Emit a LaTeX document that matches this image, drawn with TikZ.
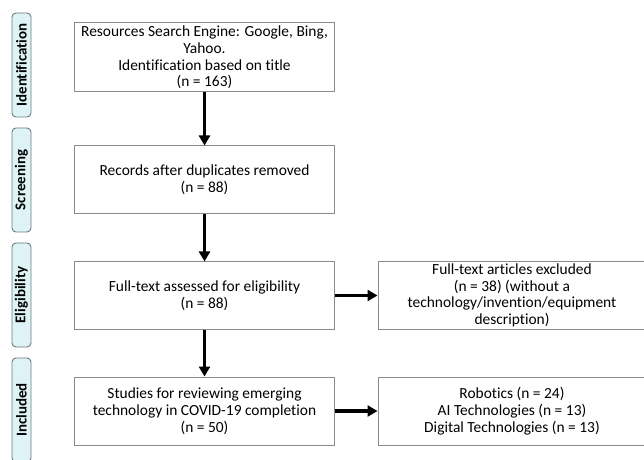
\documentclass[tikz,border=0pt]{standalone}
\usepackage{fontspec}
\setmainfont{Carlito}[Ligatures={NoCommon,NoRequired,NoContextual}]
\usetikzlibrary{arrows.meta}
\definecolor{stagefill}{HTML}{DDF3F6}
\definecolor{stageline}{HTML}{6E7B7D}
\definecolor{boxline}{HTML}{8A8A8A}
\tikzset{
  box/.style={draw=boxline, line width=1bp, align=center, inner sep=1bp,
    font=\fontsize{15.5}{16.8}\selectfont},
  stage/.style={draw=stageline, fill=stagefill, line width=0.9bp, rounded corners=4bp,
    rotate=90, minimum width=104bp, minimum height=19bp, inner sep=0pt,
    font=\bfseries\fontsize{15}{17}\selectfont},
  flow/.style={-{Triangle[length=10bp,width=11bp]}, line width=3.2bp}
}
\begin{document}
\begin{tikzpicture}[x=1bp,y=-1bp]
    \useasboundingbox (0,0) rectangle (644,460);
    % stages
    \node[stage] (ident)  at (21.5,65)  {Identification};
    \node[stage] (screen) at (21.5,180) {Screening};
    \node[stage] (elig)   at (21.5,295) {Eligibility};
    \node[stage] (incl)   at (21.5,410) {Included};
    % main column
    \node[box, minimum width=259bp, minimum height=69bp] (search) at (204.5,57.5)
        {Resources Search Engine: Google, Bing,\\ Yahoo.\\ Identification based on title\\ (n = 163)};
    \node[box, minimum width=259bp, minimum height=68bp] (dupl) at (204.5,180)
        {Records after duplicates removed\\ (n = 88)};
    \node[box, minimum width=259bp, minimum height=67bp] (fulltext) at (204.5,295.5)
        {Full-text assessed for eligibility\\ (n = 88)};
    \node[box, minimum width=259bp, minimum height=68bp] (studies) at (204.5,411)
        {Studies for reviewing emerging\\ technology in COVID-19 completion\\ (n = 50)};
    % right column
    \node[box, minimum width=268bp, minimum height=67bp] (excluded) at (512,295.5)
        {Full-text articles excluded\\ (n = 38) (without a\\ technology/invention/equipment\\ description)};
    \node[box, minimum width=268bp, minimum height=68bp] (techs) at (512,411)
        {Robotics (n = 24)\\ AI Technologies (n = 13)\\ Digital Technologies (n = 13)};
    % arrows
    \draw[flow] (search) -- (dupl);
    \draw[flow] (dupl) -- (fulltext);
    \draw[flow] (fulltext) -- (studies);
    \draw[flow] (fulltext) -- (excluded);
    \draw[flow] (studies) -- (techs);
\end{tikzpicture}
\end{document}
